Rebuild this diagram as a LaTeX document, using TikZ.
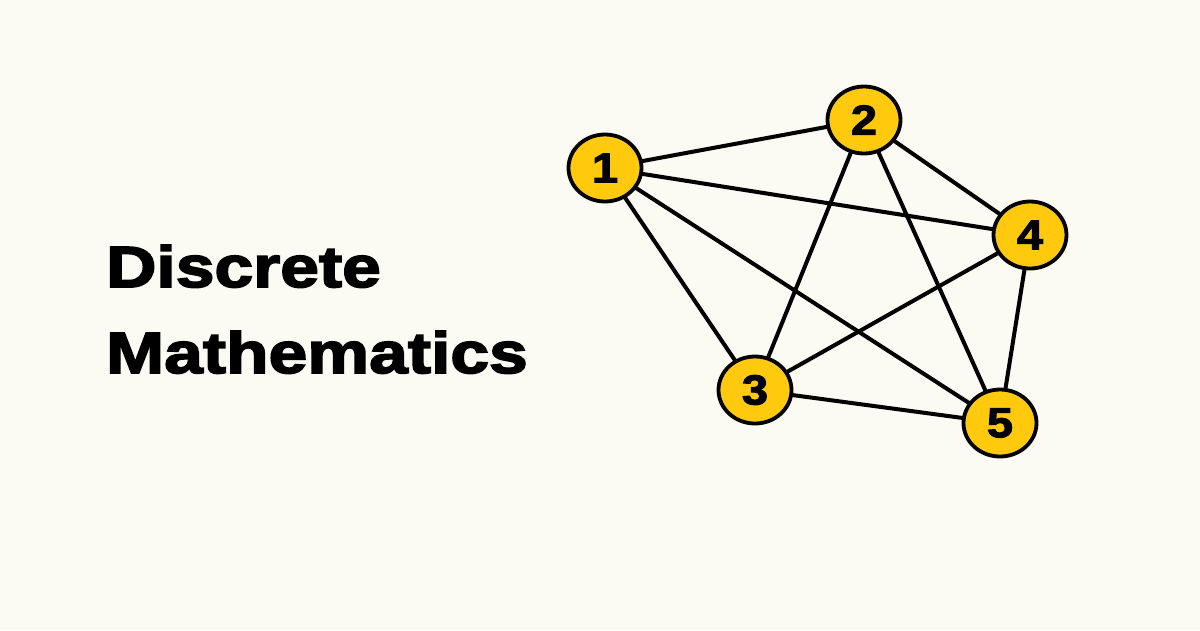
\documentclass[tikz,border=0pt]{standalone}
\usepackage{fontspec}
\setmainfont{Liberation Sans}[BoldFeatures={FakeStretch=1.2,FakeBold=3}]
\newfontfamily\numfont{Liberation Sans Bold}[FakeStretch=1.12,FakeBold=2.5]
\usetikzlibrary{shapes.geometric}
\definecolor{bg}{HTML}{FBFBF3}
\definecolor{gold}{HTML}{FFC90E}
\begin{document}
\begin{tikzpicture}[x=1pt,y=-1pt,
  vert/.style={ellipse,draw=black,line width=3.8pt,fill=gold,minimum width=73pt,minimum height=67pt,inner sep=0pt,font=\numfont\fontsize{42}{42}\selectfont},
  edge/.style={line width=4pt,black}]
\fill[bg] (0,0) rectangle (1200,630);
\useasboundingbox (0,0) rectangle (1200,630);
\node[anchor=base west,inner sep=0pt,font=\bfseries\fontsize{58}{58}\selectfont] (t1) at (106,287) {Discrete};
\node[anchor=base west,inner sep=0pt,font=\bfseries\fontsize{58}{58}\selectfont] (t2) at (106,373) {Mathematics};
\coordinate (c1) at (605,168);
\coordinate (c2) at (864,120);
\coordinate (c3) at (755,390);
\coordinate (c4) at (1030,235);
\coordinate (c5) at (1000,423);
\draw[edge] (c1) -- (c2);
\draw[edge] (c1) -- (c4);
\draw[edge] (c1) -- (c3);
\draw[edge] (c1) -- (c5);
\draw[edge] (c2) -- (c3);
\draw[edge] (c2) -- (c4);
\draw[edge] (c2) -- (c5);
\draw[edge] (c3) -- (c4);
\draw[edge] (c3) -- (c5);
\draw[edge] (c4) -- (c5);
\node[vert] (n1) at (c1) {1};
\node[vert] (n2) at (c2) {2};
\node[vert] (n3) at (c3) {3};
\node[vert] (n4) at (c4) {4};
\node[vert] (n5) at (c5) {5};
\end{tikzpicture}
\end{document}
